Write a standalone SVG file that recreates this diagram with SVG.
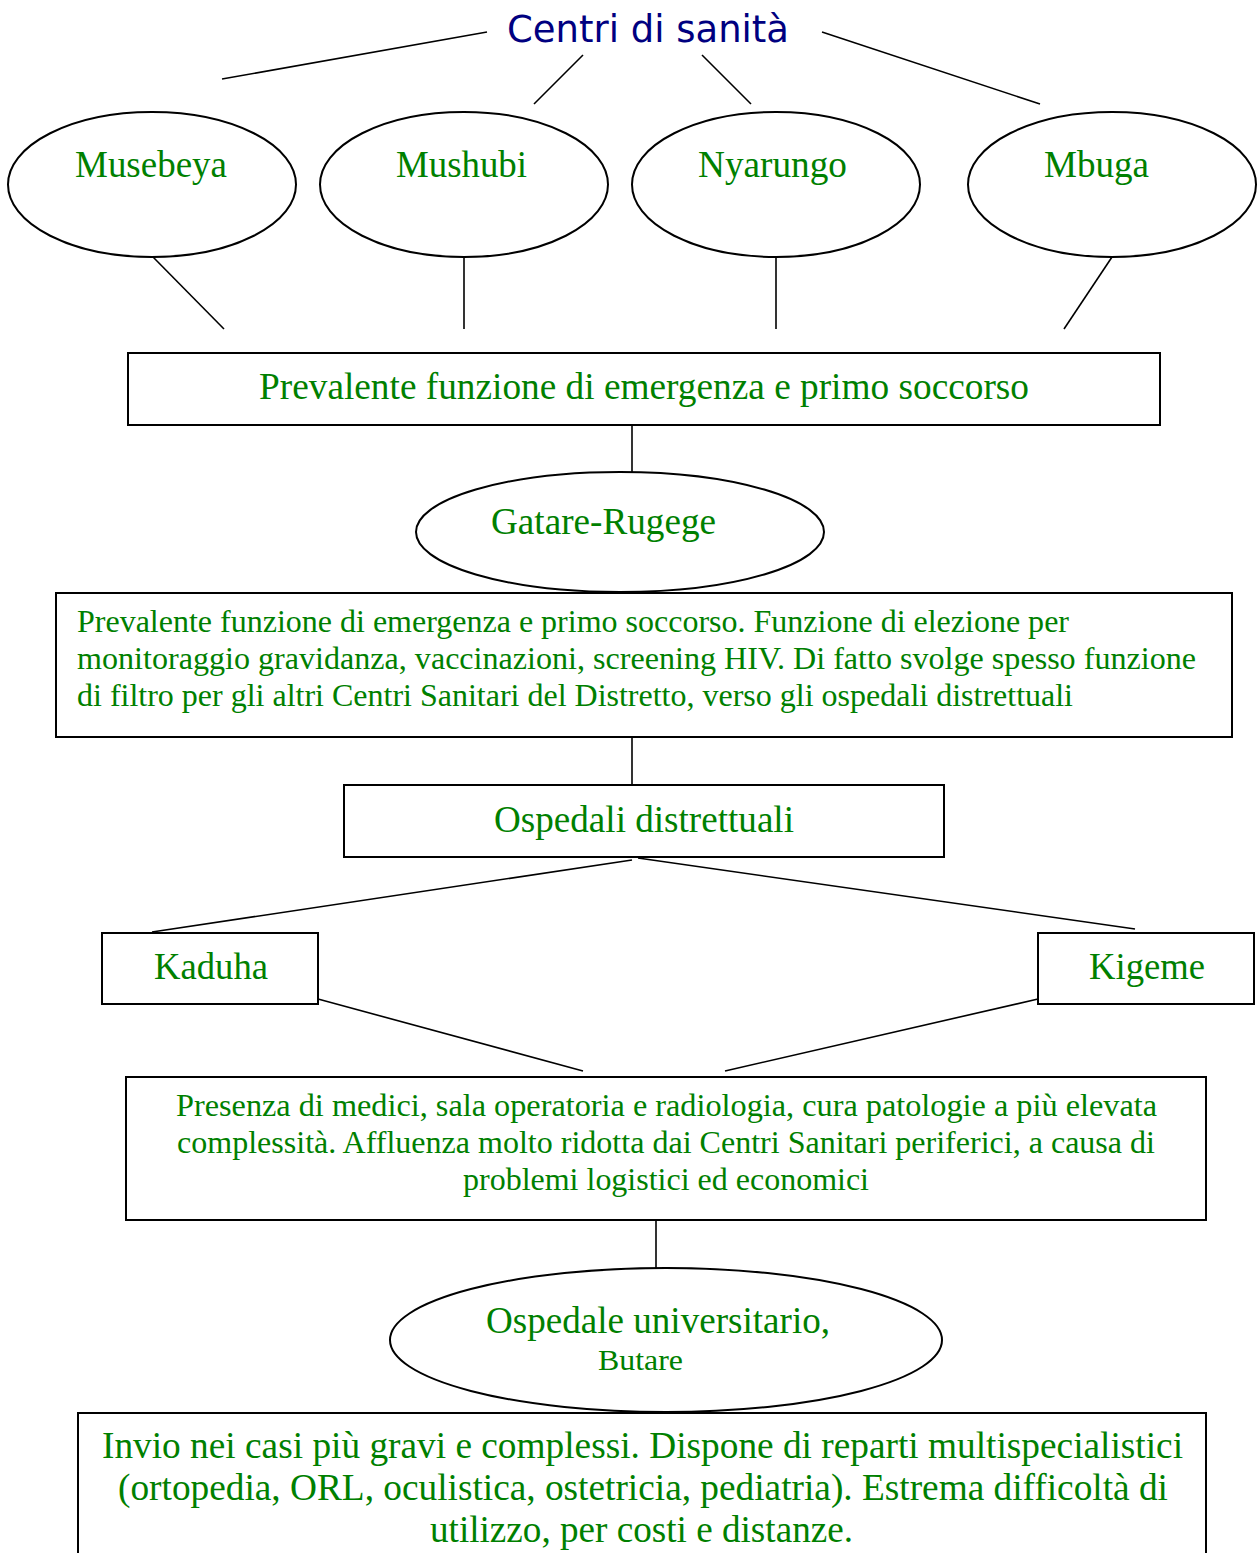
<svg xmlns="http://www.w3.org/2000/svg" width="1258" height="1553" viewBox="0 0 1258 1553">
<style>
.shape{fill:#fff;stroke:#000;stroke-width:2}
.conn line{stroke:#000;stroke-width:1.6}
.t{font-family:"Liberation Serif","Times New Roman",serif;fill:#008000}
.big{font-size:37px}
.small{font-size:31px}
.title{font-family:"DejaVu Sans",sans-serif;font-size:37px;fill:#000080}
</style>
<rect width="1258" height="1553" fill="#fff"/>
<g id="connectors" class="conn">
<line x1="222" y1="79" x2="487" y2="32"/>
<line x1="534" y1="104" x2="583" y2="55"/>
<line x1="702" y1="55" x2="751" y2="104"/>
<line x1="822" y1="32" x2="1040" y2="104"/>
<line x1="153" y1="257" x2="224" y2="329"/>
<line x1="464" y1="257" x2="464" y2="329"/>
<line x1="776" y1="257" x2="776" y2="329"/>
<line x1="1112" y1="257" x2="1064" y2="329"/>
<line x1="632" y1="425" x2="632" y2="472"/>
<line x1="632" y1="737" x2="632" y2="785"/>
<line x1="632" y1="860" x2="152" y2="932"/>
<line x1="638" y1="858" x2="1135" y2="929"/>
<line x1="318" y1="999" x2="583" y2="1071"/>
<line x1="1038" y1="999" x2="725" y2="1071"/>
<line x1="656" y1="1220" x2="656" y2="1268"/>
</g>
<g id="title">
<text class="title" x="507" y="42" textLength="282" lengthAdjust="spacingAndGlyphs">Centri di sanità</text>
</g>
<g id="musebeya">
<ellipse class="shape" cx="152" cy="184.5" rx="144" ry="72.5"/>
<text class="t big" x="75" y="177" textLength="152" lengthAdjust="spacingAndGlyphs">Musebeya</text>
</g>
<g id="mushubi">
<ellipse class="shape" cx="464" cy="184.5" rx="144" ry="72.5"/>
<text class="t big" x="396" y="177" textLength="131" lengthAdjust="spacingAndGlyphs">Mushubi</text>
</g>
<g id="nyarungo">
<ellipse class="shape" cx="776" cy="184.5" rx="144" ry="72.5"/>
<text class="t big" x="698" y="177" textLength="149" lengthAdjust="spacingAndGlyphs">Nyarungo</text>
</g>
<g id="mbuga">
<ellipse class="shape" cx="1112" cy="184.5" rx="144" ry="72.5"/>
<text class="t big" x="1044" y="177" textLength="105" lengthAdjust="spacingAndGlyphs">Mbuga</text>
</g>
<g id="box-emergenza">
<rect class="shape" x="128" y="353" width="1032" height="72"/>
<text class="t big" x="259" y="399" textLength="770" lengthAdjust="spacingAndGlyphs">Prevalente funzione di emergenza e primo soccorso</text>
</g>
<g id="gatare-rugege">
<ellipse class="shape" cx="620" cy="532" rx="204" ry="60"/>
<text class="t big" x="491" y="534" textLength="225" lengthAdjust="spacingAndGlyphs">Gatare-Rugege</text>
</g>
<g id="box-gatare">
<rect class="shape" x="56" y="593" width="1176" height="144"/>
<text class="t small" x="77" y="632" textLength="992" lengthAdjust="spacingAndGlyphs">Prevalente funzione di emergenza e primo soccorso. Funzione di elezione per</text>
<text class="t small" x="77" y="669" textLength="1119" lengthAdjust="spacingAndGlyphs">monitoraggio gravidanza, vaccinazioni, screening HIV. Di fatto svolge spesso funzione</text>
<text class="t small" x="77" y="706" textLength="996" lengthAdjust="spacingAndGlyphs">di filtro per gli altri Centri Sanitari del Distretto, verso gli ospedali distrettuali</text>
</g>
<g id="ospedali-distrettuali">
<rect class="shape" x="344" y="785" width="600" height="72"/>
<text class="t big" x="494" y="832" textLength="300" lengthAdjust="spacingAndGlyphs">Ospedali distrettuali</text>
</g>
<g id="kaduha">
<rect class="shape" x="102" y="933" width="216" height="71"/>
<text class="t big" x="154" y="979" textLength="114" lengthAdjust="spacingAndGlyphs">Kaduha</text>
</g>
<g id="kigeme">
<rect class="shape" x="1038" y="933" width="216" height="71"/>
<text class="t big" x="1089" y="979" textLength="116" lengthAdjust="spacingAndGlyphs">Kigeme</text>
</g>
<g id="box-ospedali">
<rect class="shape" x="126" y="1077" width="1080" height="143"/>
<text class="t small" x="176" y="1116" textLength="981" lengthAdjust="spacingAndGlyphs">Presenza di medici, sala operatoria  e radiologia, cura patologie a più elevata</text>
<text class="t small" x="177" y="1153" textLength="978" lengthAdjust="spacingAndGlyphs">complessità. Affluenza molto ridotta dai Centri Sanitari periferici, a causa di</text>
<text class="t small" x="463" y="1190" textLength="406" lengthAdjust="spacingAndGlyphs">problemi logistici ed economici</text>
</g>
<g id="ospedale-universitario">
<ellipse class="shape" cx="666" cy="1340" rx="276" ry="72"/>
<text class="t big" x="486" y="1333" textLength="344" lengthAdjust="spacingAndGlyphs">Ospedale universitario,</text>
<text class="t small" x="598" y="1370" textLength="85" lengthAdjust="spacingAndGlyphs" style="font-size:30px">Butare</text>
</g>
<g id="box-universitario">
<rect class="shape" x="78" y="1413" width="1128" height="170"/>
<text class="t big" x="102" y="1458" textLength="1081" lengthAdjust="spacingAndGlyphs">Invio nei casi più gravi e complessi. Dispone di reparti multispecialistici</text>
<text class="t big" x="118" y="1500" textLength="1050" lengthAdjust="spacingAndGlyphs">(ortopedia, ORL, oculistica, ostetricia, pediatria). Estrema difficoltà di</text>
<text class="t big" x="430" y="1542" textLength="423" lengthAdjust="spacingAndGlyphs">utilizzo, per costi e distanze.</text>
</g>
</svg>
